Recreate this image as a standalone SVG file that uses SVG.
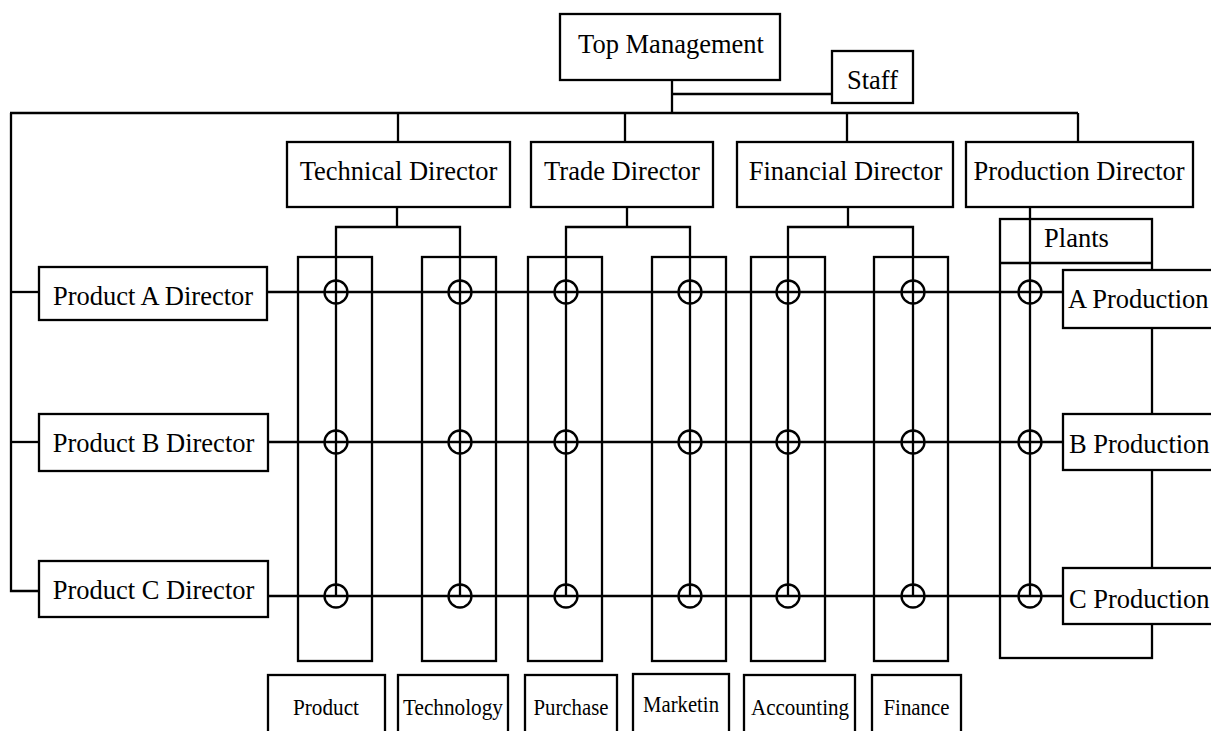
<svg xmlns="http://www.w3.org/2000/svg" width="1211" height="731" viewBox="0 0 1211 731">
<style>
rect{fill:#fff;stroke:#000;stroke-width:2.3}
.col{fill:none}
line,polyline{stroke:#000;stroke-width:2.3;fill:none}
circle{fill:none;stroke:#000;stroke-width:2.3}
text{font-family:"Liberation Serif","Times New Roman",serif;font-size:26.5px;fill:#000}
.c{text-anchor:middle}
.s{font-size:23px}
</style>
<rect x="0" y="0" width="1211" height="731" style="stroke:none"/>
<g id="plants-frame">
<rect x="1000" y="219" width="152" height="439" class="col"/>
<line x1="1000" y1="263" x2="1152" y2="263"/>
</g>
<g id="columns">
<rect class="col" x="298" y="257" width="74" height="404"/>
<rect class="col" x="422" y="257" width="74" height="404"/>
<rect class="col" x="528" y="257" width="74" height="404"/>
<rect class="col" x="652" y="257" width="74" height="404"/>
<rect class="col" x="751" y="257" width="74" height="404"/>
<rect class="col" x="874" y="257" width="74" height="404"/>
</g>
<g id="connectors">
<line x1="672" y1="80" x2="672" y2="113"/>
<line x1="672" y1="94" x2="832" y2="94"/>
<line x1="10" y1="113" x2="1078" y2="113"/>
<line x1="398" y1="113" x2="398" y2="142"/>
<line x1="625" y1="113" x2="625" y2="142"/>
<line x1="847" y1="113" x2="847" y2="142"/>
<line x1="1078" y1="113" x2="1078" y2="142"/>
<polyline points="11,113 11,591 39,591"/>
<line x1="11" y1="292" x2="39" y2="292"/>
<line x1="11" y1="442" x2="39" y2="442"/>
<line x1="397" y1="207" x2="397" y2="227"/>
<polyline points="336,596 336,227 460,227 460,596"/>
<line x1="627" y1="207" x2="627" y2="227"/>
<polyline points="566,596 566,227 690,227 690,596"/>
<line x1="848" y1="207" x2="848" y2="227"/>
<polyline points="788,596 788,227 913,227 913,596"/>
<line x1="1030" y1="207" x2="1030" y2="596"/>
<line x1="267" y1="292" x2="1063" y2="292"/>
<line x1="268" y1="442" x2="1063" y2="442"/>
<line x1="268" y1="596" x2="1063" y2="596"/>
<g id="crossings">
<circle cx="336" cy="292" r="11.5"/><circle cx="460" cy="292" r="11.5"/><circle cx="566" cy="292" r="11.5"/><circle cx="690" cy="292" r="11.5"/><circle cx="788" cy="292" r="11.5"/><circle cx="913" cy="292" r="11.5"/><circle cx="1030" cy="292" r="11.5"/>
<circle cx="336" cy="442" r="11.5"/><circle cx="460" cy="442" r="11.5"/><circle cx="566" cy="442" r="11.5"/><circle cx="690" cy="442" r="11.5"/><circle cx="788" cy="442" r="11.5"/><circle cx="913" cy="442" r="11.5"/><circle cx="1030" cy="442" r="11.5"/>
<circle cx="336" cy="596" r="11.5"/><circle cx="460" cy="596" r="11.5"/><circle cx="566" cy="596" r="11.5"/><circle cx="690" cy="596" r="11.5"/><circle cx="788" cy="596" r="11.5"/><circle cx="913" cy="596" r="11.5"/><circle cx="1030" cy="596" r="11.5"/>
</g>
</g>
<g id="top-management"><rect x="560" y="14" width="220" height="66"/><text class="c" x="671" y="53">Top Management</text></g>
<g id="staff"><rect x="832" y="51" width="81" height="52"/><text class="c" x="872.5" y="89">Staff</text></g>
<g id="technical-director"><rect x="287" y="142" width="223" height="65"/><text class="c" x="398.5" y="180">Technical Director</text></g>
<g id="trade-director"><rect x="531" y="142" width="182" height="65"/><text class="c" x="622" y="180">Trade Director</text></g>
<g id="financial-director"><rect x="737" y="142" width="216" height="65"/><text class="c" x="845.5" y="180">Financial Director</text></g>
<g id="production-director"><rect x="966" y="142" width="227" height="65"/><text class="c" x="1079" y="180">Production Director</text></g>
<g id="plants"><text class="c" x="1076.5" y="247">Plants</text></g>
<g id="product-a-director"><rect x="39" y="267" width="228" height="53"/><text class="c" x="153" y="305">Product A Director</text></g>
<g id="product-b-director"><rect x="39" y="414" width="229" height="57"/><text class="c" x="153.5" y="452">Product B Director</text></g>
<g id="product-c-director"><rect x="39" y="561" width="229" height="56"/><text class="c" x="153.5" y="599">Product C Director</text></g>
<g id="a-production"><rect x="1063" y="270" width="160" height="58"/><text x="1068" y="308">A Production</text></g>
<g id="b-production"><rect x="1063" y="414" width="160" height="56"/><text x="1069" y="453">B Production</text></g>
<g id="c-production"><rect x="1063" y="568" width="160" height="56"/><text x="1069" y="608">C Production</text></g>
<g id="product"><rect x="268" y="675" width="117" height="70"/><text class="c s" x="326" y="715" textLength="66" lengthAdjust="spacingAndGlyphs">Product</text></g>
<g id="technology"><rect x="398" y="675" width="110" height="70"/><text class="c s" x="453" y="715" textLength="100" lengthAdjust="spacingAndGlyphs">Technology</text></g>
<g id="purchase"><rect x="525" y="675" width="92" height="70"/><text class="c s" x="571" y="715" textLength="75" lengthAdjust="spacingAndGlyphs">Purchase</text></g>
<g id="marketin"><rect x="633" y="674" width="96" height="72"/><text class="c s" x="681" y="712" textLength="76" lengthAdjust="spacingAndGlyphs">Marketin</text></g>
<g id="accounting"><rect x="744" y="675" width="111" height="70"/><text class="c s" x="800" y="715" textLength="98" lengthAdjust="spacingAndGlyphs">Accounting</text></g>
<g id="finance"><rect x="872" y="675" width="89" height="70"/><text class="c s" x="916.5" y="715" textLength="66" lengthAdjust="spacingAndGlyphs">Finance</text></g>
</svg>
